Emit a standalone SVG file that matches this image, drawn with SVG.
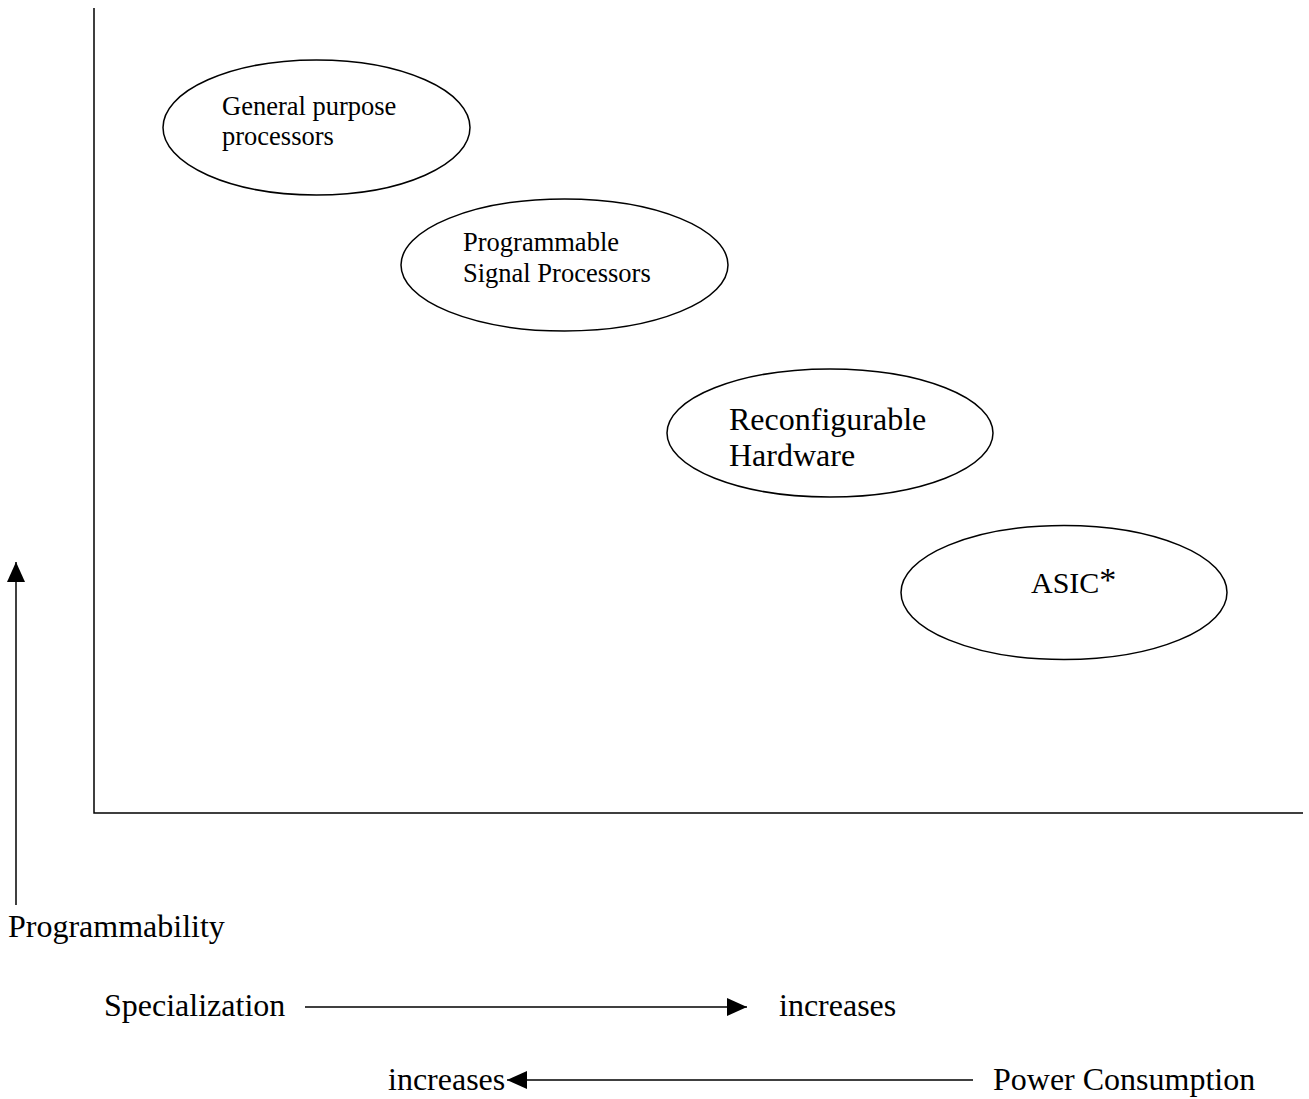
<svg xmlns="http://www.w3.org/2000/svg" width="1309" height="1099" viewBox="0 0 1309 1099">
<style>
text{font-family:"Liberation Serif","Times New Roman",serif;fill:#000}
.s{font-size:26.5px}
.l{font-size:32px}
ellipse{fill:#fff;stroke:#000;stroke-width:1.5}
.ln{stroke:#000;stroke-width:1.5;fill:none}
</style>
<defs>
<marker id="ah" markerWidth="20" markerHeight="20" refX="20" refY="10" orient="auto" markerUnits="userSpaceOnUse">
<path d="M0,1 L20,10 L0,19 Z" fill="#000"/>
</marker>
</defs>
<rect width="1309" height="1099" fill="#fff"/>
<g id="axes">
<path class="ln" d="M94,8 V813 H1303" stroke-width="2"/>
</g>
<g id="n1">
<ellipse cx="316.5" cy="127.5" rx="153.5" ry="67.5"/>
<text class="s" x="222" y="115">General purpose</text>
<text class="s" x="222" y="145">processors</text>
</g>
<g id="n2">
<ellipse cx="564.5" cy="265" rx="163.5" ry="66"/>
<text class="s" x="463" y="251">Programmable</text>
<text class="s" x="463" y="282">Signal Processors</text>
</g>
<g id="n3">
<ellipse cx="830" cy="433" rx="163" ry="64"/>
<text class="l" x="729" y="430">Reconfigurable</text>
<text class="l" x="729" y="466">Hardware</text>
</g>
<g id="n4">
<ellipse cx="1064" cy="592.5" rx="163" ry="67"/>
<text x="1031" y="593" font-size="30">ASIC<tspan dy="-2" font-size="34">*</tspan></text>
</g>
<g id="connectors">
<line class="ln" x1="16" y1="905" x2="16" y2="562" marker-end="url(#ah)"/>
<line class="ln" x1="305" y1="1007" x2="747" y2="1007" marker-end="url(#ah)"/>
<line class="ln" x1="973" y1="1080" x2="507" y2="1080" marker-end="url(#ah)"/>
</g>
<g id="labels">
<text class="l" x="8" y="937">Programmability</text>
<text class="l" x="104" y="1016">Specialization</text>
<text class="l" x="779" y="1016">increases</text>
<text class="l" x="388" y="1090">increases</text>
<text class="l" x="993" y="1090">Power Consumption</text>
</g>
</svg>
